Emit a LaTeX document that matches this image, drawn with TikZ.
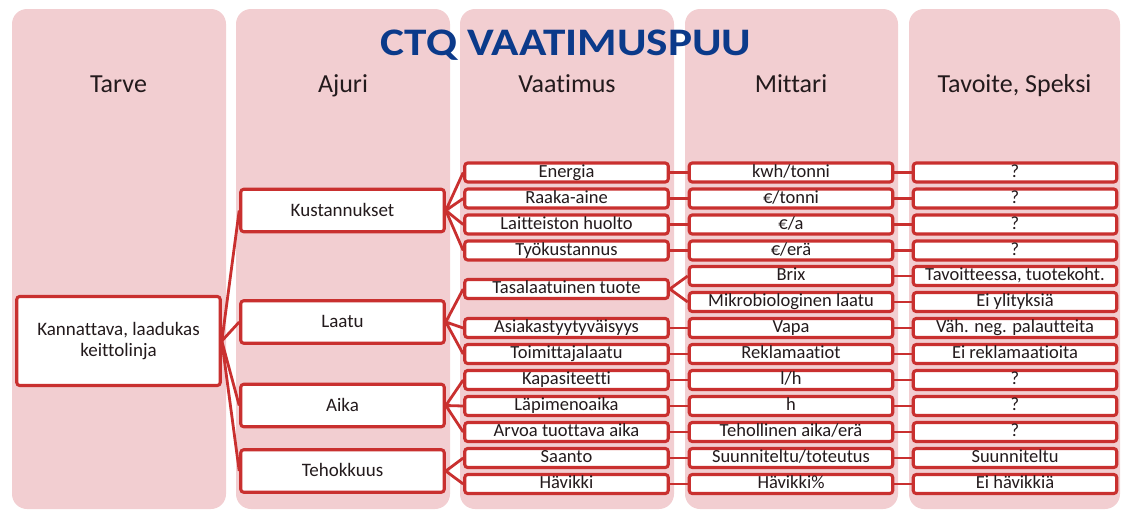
\documentclass[tikz,border=0pt]{standalone}
\usepackage{fontspec}
\setmainfont{Carlito}[Ligatures={NoCommon,NoContextual}]
\newfontfamily\titlefont{Carlito}[FakeStretch=1.16,Ligatures={NoCommon,NoContextual}]
\usetikzlibrary{backgrounds}
\definecolor{colpink}{HTML}{F2CED1}
\definecolor{boxred}{HTML}{C9302F}
\definecolor{titleblue}{HTML}{0B3A8A}
\definecolor{txt}{HTML}{231A1C}
\begin{document}
\begin{tikzpicture}[x=1pt,y=-1pt,
  colbg/.style={fill=colpink,rounded corners=15pt},
  hdr/.style={anchor=base,text=txt,font=\fontsize{26}{30}\selectfont},
  rowbox/.style={draw=boxred,line width=3.1pt,fill=white,rounded corners=3pt,
    minimum width=203.5pt,minimum height=19pt,inner sep=0pt,text=txt,
    text height=13.2pt,text depth=4pt,
    font=\fontsize{18.5}{20}\selectfont},
  drvbox/.style={rowbox,minimum height=42.5pt,text height=15pt,text depth=4pt,
    font=\fontsize{19}{21}\selectfont},
  rootbox/.style={rowbox,minimum height=89pt,align=center,text height=,text depth=,
    font=\fontsize{19}{21}\selectfont},
  link/.style={draw=boxred,line width=2.8pt}]
\useasboundingbox (0,0) rectangle (1121,512);
% columns
\begin{scope}[on background layer]
\fill[colbg] (12,9) rectangle (226,509);
\fill[colbg] (236,9) rectangle (450,509);
\fill[colbg] (460,9) rectangle (674,509);
\fill[colbg] (685,9) rectangle (898,509);
\fill[colbg] (909,9) rectangle (1120,509);
\end{scope}
% title
\node[text=titleblue,font=\titlefont\bfseries\fontsize{39}{42}\selectfont,anchor=base] (title) at (566,55) {CTQ VAATIMUSPUU};
% headers
\node[hdr] (h1) at (118.5,92) {Tarve};
\node[hdr] (h2) at (343,92) {Ajuri};
\node[hdr] (h3) at (567,92) {Vaatimus};
\node[hdr] (h4) at (791,92) {Mittari};
\node[hdr] (h5) at (1014.5,92) {Tavoite, Speksi};
% root
\node[rootbox] (root) at (118.5,341) {Kannattava, laadukas\\keittolinja};
% drivers
\node[drvbox] (d1) at (342.5,210.5) {Kustannukset};
\node[drvbox] (d2) at (342.5,322) {Laatu};
\node[drvbox] (d3) at (342.5,405.5) {Aika};
\node[drvbox] (d4) at (342.5,471) {Tehokkuus};
% requirements
\node[rowbox] (r1) at (566.5,172.5) {Energia};
\node[rowbox] (r2) at (566.5,198.5) {Raaka-aine};
\node[rowbox] (r3) at (566.5,224.5) {Laitteiston huolto};
\node[rowbox] (r4) at (566.5,250.5) {Työkustannus};
\node[rowbox] (r5) at (566.5,289) {Tasalaatuinen tuote};
\node[rowbox] (r6) at (566.5,328) {Asiakastyytyväisyys};
\node[rowbox] (r7) at (566.5,354) {Toimittajalaatu};
\node[rowbox] (r8) at (566.5,380) {Kapasiteetti};
\node[rowbox] (r9) at (566.5,406) {Läpimenoaika};
\node[rowbox] (r10) at (566.5,432) {Arvoa tuottava aika};
\node[rowbox] (r11) at (566.5,458) {Saanto};
\node[rowbox] (r12) at (566.5,484) {Hävikki};
% measures
\node[rowbox] (m1) at (791,172.5) {kwh/tonni};
\node[rowbox] (m2) at (791,198.5) {€/tonni};
\node[rowbox] (m3) at (791,224.5) {€/a};
\node[rowbox] (m4) at (791,250.5) {€/erä};
\node[rowbox] (m5a) at (791,276) {Brix};
\node[rowbox] (m5b) at (791,302) {Mikrobiologinen laatu};
\node[rowbox] (m6) at (791,328) {Vapa};
\node[rowbox] (m7) at (791,354) {Reklamaatiot};
\node[rowbox] (m8) at (791,380) {l/h};
\node[rowbox] (m9) at (791,406) {h};
\node[rowbox] (m10) at (791,432) {Tehollinen aika/erä};
\node[rowbox] (m11) at (791,458) {Suunniteltu/toteutus};
\node[rowbox] (m12) at (791,484) {Hävikki\%};
% targets
\node[rowbox] (t1) at (1015,172.5) {?};
\node[rowbox] (t2) at (1015,198.5) {?};
\node[rowbox] (t3) at (1015,224.5) {?};
\node[rowbox] (t4) at (1015,250.5) {?};
\node[rowbox] (t5a) at (1015,276) {Tavoitteessa, tuotekoht.};
\node[rowbox] (t5b) at (1015,302) {Ei ylityksiä};
\node[rowbox] (t6) at (1015,328) {Väh. neg. palautteita};
\node[rowbox] (t7) at (1015,354) {Ei reklamaatioita};
\node[rowbox] (t8) at (1015,380) {?};
\node[rowbox] (t9) at (1015,406) {?};
\node[rowbox] (t10) at (1015,432) {?};
\node[rowbox] (t11) at (1015,458) {Suunniteltu};
\node[rowbox] (t12) at (1015,484) {Ei hävikkiä};
% connectors
\begin{scope}[on background layer]
\foreach \d in {d1,d2,d3,d4} \draw[link] (root.east) -- (\d.west);
\foreach \r in {r1,r2,r3,r4} \draw[link] (d1.east) -- (\r.west);
\foreach \r in {r5,r6,r7} \draw[link] (d2.east) -- (\r.west);
\foreach \r in {r8,r9,r10} \draw[link] (d3.east) -- (\r.west);
\foreach \r in {r11,r12} \draw[link] (d4.east) -- (\r.west);
\foreach \a/\b in {r1/m1,r2/m2,r3/m3,r4/m4,r5/m5a,r5/m5b,r6/m6,r7/m7,r8/m8,r9/m9,r10/m10,r11/m11,r12/m12}
  \draw[link] (\a.east) -- (\b.west);
\foreach \a/\b in {m1/t1,m2/t2,m3/t3,m4/t4,m5a/t5a,m5b/t5b,m6/t6,m7/t7,m8/t8,m9/t9,m10/t10,m11/t11,m12/t12}
  \draw[link] (\a.east) -- (\b.west);
\end{scope}
\end{tikzpicture}
\end{document}
